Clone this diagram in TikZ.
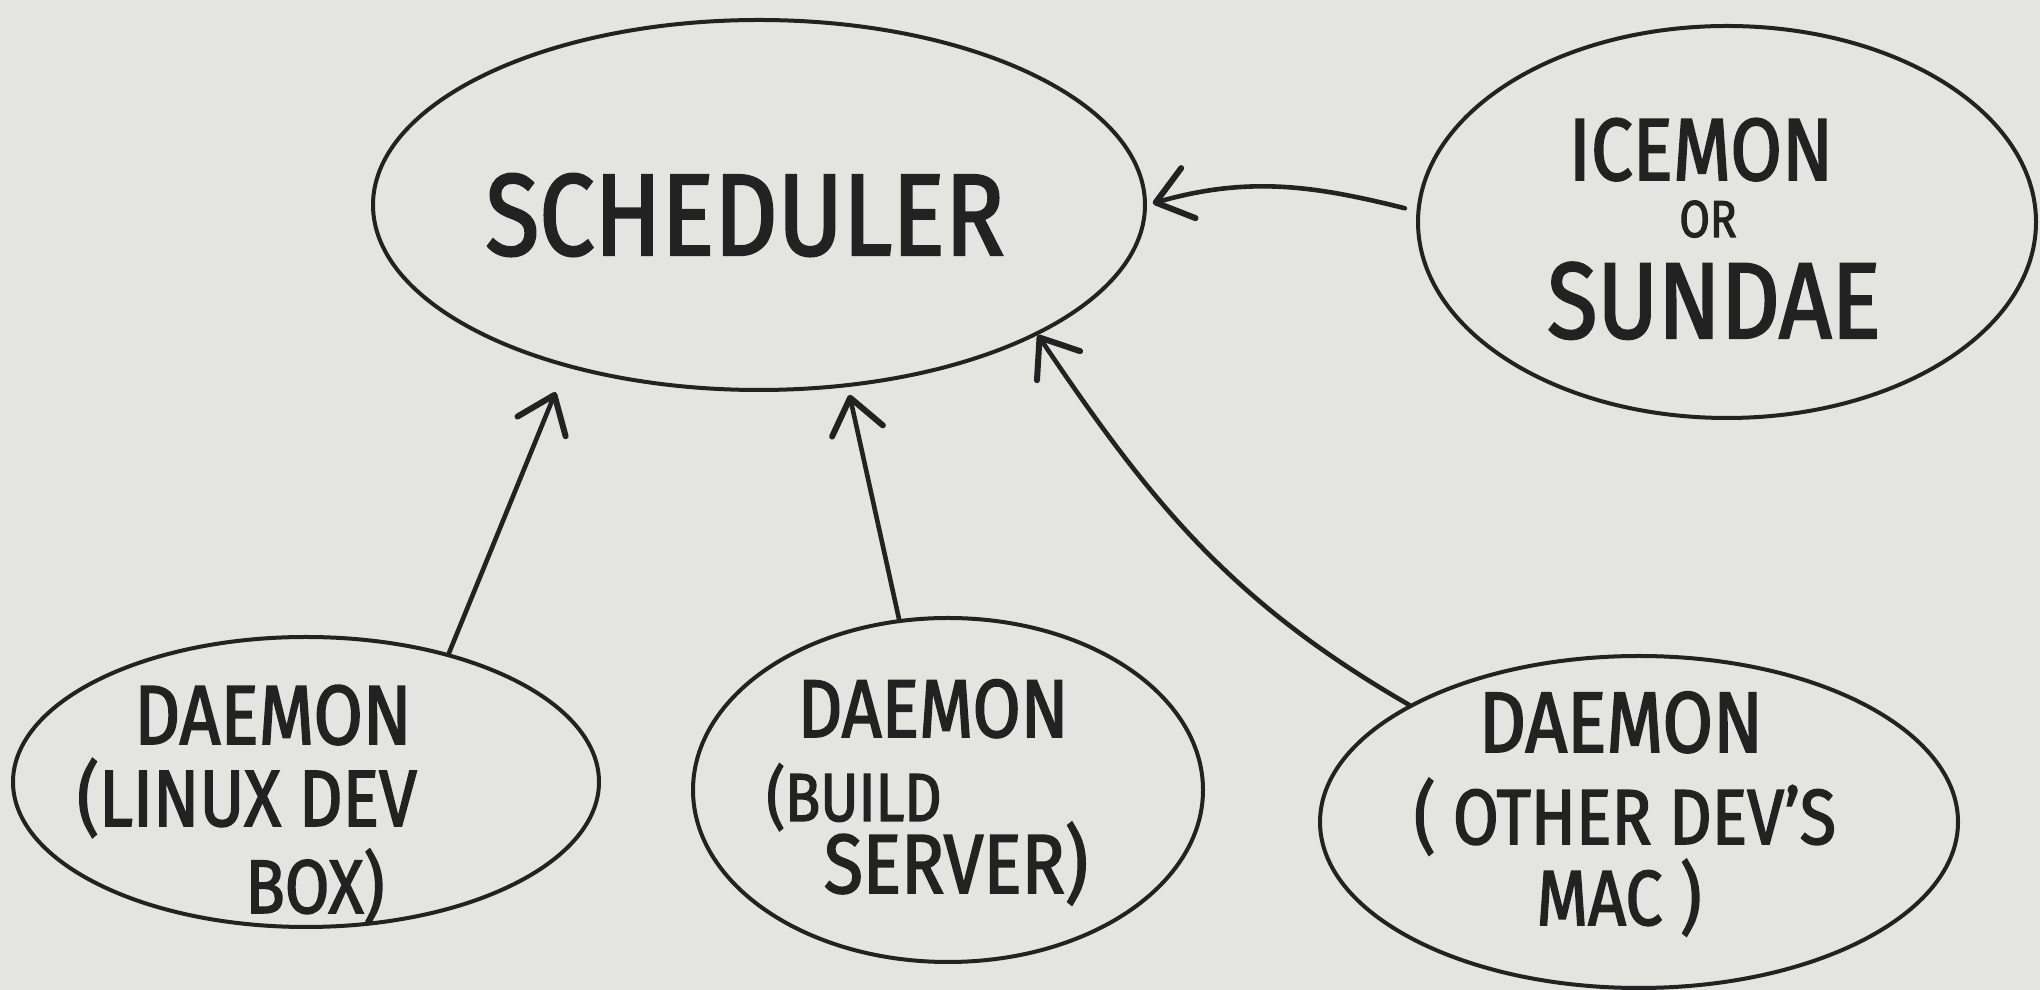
\documentclass[tikz,border=0pt]{standalone}
\usepackage{fontspec}
\setmainfont{Fira Sans}[FakeStretch=0.85,FakeBold=2]
\usetikzlibrary{shapes.geometric,arrows.meta}
\definecolor{board}{HTML}{E4E4E2}
\definecolor{ink}{HTML}{222222}
\tikzset{
  bubble/.style={draw=ink, line width=2pt, ellipse, inner sep=0pt},
  hand/.style={text=ink, inner sep=0pt, anchor=base, font=\fontsize{#1}{#1}\selectfont},
  link/.style={draw=ink, line width=2.3pt, line cap=round,
    -{Straight Barb[length=17pt,width=26pt,line width=3pt,round]}},
}
\begin{document}
\begin{tikzpicture}[x=0.5pt,y=0.5pt]
\fill[board] (0,0) rectangle (2040,990);
\useasboundingbox (0,0) rectangle (2040,990);

% bubbles
\node[bubble, minimum width=386pt, minimum height=185pt] (sched) at (759,785) {};
\node[bubble, minimum width=309pt, minimum height=196pt] (ice)   at (1727,768) {};
\node[bubble, minimum width=293pt, minimum height=145pt] (d1)    at (306,208) {};
\node[bubble, minimum width=255pt, minimum height=172pt] (d2)    at (948,200) {};
\node[bubble, minimum width=319pt, minimum height=166pt] (d3)    at (1639,168) {};

% labels
\node[hand=44] (tice1) at (1701,810) {ICEMON};
\node[hand=26] (tice2) at (1708,753) {OR};
\node[hand=54] (tice3) at (1714,652) {SUNDAE};
\node[hand=58] (tsched) at (745,735) {SCHEDULER};

\node[hand=42] (td1a) at (273,246) {DAEMON};
\node[hand=40] (td1b) at (247,164) {(LINUX DEV};
\node[hand=38] (td1c) at (315,77)  {BOX)};

\node[hand=41] (td2a) at (933,253) {DAEMON};
\node[hand=34] (td2b) at (854,169) {(BUILD};
\node[hand=42] (td2c) at (956,97)  {SERVER)};

\node[hand=43] (td3a) at (1621,238) {DAEMON};
\node[hand=39] (td3b) at (1625,146) {( OTHER DEV'S};
\node[hand=39] (td3c) at (1619,65)  {MAC )};

% connectors
\draw[link, shorten >=13.5pt] (d1.42) -- (sched.220);
\draw[link, shorten >=4pt] (d2.106) -- (sched.296);
\draw[link] (d3.153) to[out=150,in=-56] (sched.335);
\draw[link, shorten <=6pt, shorten >=3pt] (ice.178) to[out=166,in=16] (sched.0);
\end{tikzpicture}
\end{document}
